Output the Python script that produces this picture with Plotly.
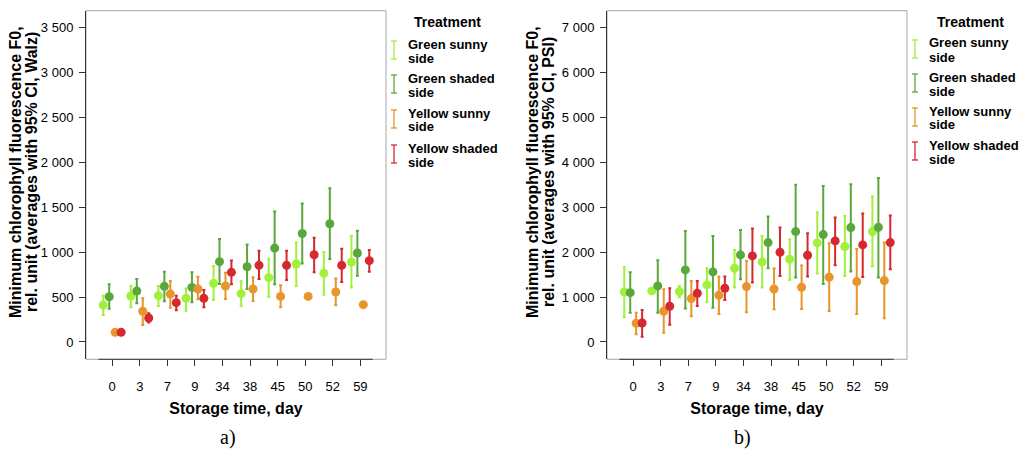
import plotly.graph_objects as go
from plotly.subplots import make_subplots

days = ["0", "3", "7", "9", "34", "38", "45", "50", "52", "59"]
treatments = ["Green sunny", "Green shaded", "Yellow sunny", "Yellow shaded"]
colors = ["#a2f03c", "#5aa83c", "#e8952b", "#d6282f"]

# Panel a) F0, Walz: means and 95% CI bounds
walz_gs_mean = [411, 511, 515, 485, 652, 537, 715, 867, 763, 889]
walz_gs_low = [300, 385, 400, 348, 467, 400, 504, 622, 526, 607]
walz_gs_high = [514, 622, 622, 596, 844, 674, 926, 1107, 1000, 1178]
walz_gsh_mean = [503, 567, 619, 607, 893, 837, 1044, 1207, 1315, 989]
walz_gsh_low = [370, 430, 452, 441, 644, 589, 641, 874, 922, 737]
walz_gsh_high = [641, 700, 781, 774, 1144, 1085, 1452, 1541, 1711, 1237]
walz_ys_mean = [107, 341, 533, 589, 622, 589, 507, 507, 556, 415]
walz_ys_low = [95, 189, 381, 474, 478, 456, 385, 495, 407, 405]
walz_ys_high = [119, 485, 678, 726, 770, 719, 630, 519, 707, 425]
walz_ysh_mean = [107, 267, 437, 485, 774, 852, 852, 970, 852, 904]
walz_ysh_low = [90, 215, 352, 385, 641, 700, 689, 774, 667, 781]
walz_ysh_high = [124, 319, 515, 578, 907, 1015, 1015, 1159, 1037, 1022]

# Panel b) F0, PSI: means and 95% CI bounds
psi_gs_mean = [1115, 1137, 1122, 1271, 1642, 1783, 1843, 2207, 2125, 2459]
psi_gs_low = [557, 1100, 996, 884, 1211, 1211, 1382, 1523, 1471, 1687]
psi_gs_high = [1665, 1175, 1248, 1642, 2051, 2363, 2289, 2891, 2808, 3239]
psi_gsh_mean = [1099, 1248, 1605, 1560, 1939, 2214, 2459, 2392, 2548, 2556]
psi_gsh_low = [653, 653, 743, 765, 1397, 1642, 1434, 1293, 1567, 1434]
psi_gsh_high = [1554, 1821, 2474, 2363, 2496, 2793, 3500, 3477, 3515, 3655]
psi_ys_mean = [416, 684, 966, 1040, 1233, 1181, 1219, 1441, 1345, 1367]
psi_ys_low = [172, 208, 572, 624, 661, 728, 736, 691, 624, 528]
psi_ys_high = [653, 1174, 1360, 1456, 1805, 1634, 1701, 2199, 2073, 2214]
psi_ysh_mean = [423, 795, 1085, 1196, 1917, 1999, 1932, 2251, 2162, 2214]
psi_ysh_low = [119, 386, 802, 936, 1322, 1471, 1456, 1709, 1449, 1620]
psi_ysh_high = [713, 1197, 1360, 1456, 2526, 2548, 2422, 2771, 2860, 2816]

walz = [(walz_gs_mean, walz_gs_low, walz_gs_high),
        (walz_gsh_mean, walz_gsh_low, walz_gsh_high),
        (walz_ys_mean, walz_ys_low, walz_ys_high),
        (walz_ysh_mean, walz_ysh_low, walz_ysh_high)]
psi = [(psi_gs_mean, psi_gs_low, psi_gs_high),
       (psi_gsh_mean, psi_gsh_low, psi_gsh_high),
       (psi_ys_mean, psi_ys_low, psi_ys_high),
       (psi_ysh_mean, psi_ysh_low, psi_ysh_high)]

# page body has an 8px default margin: the figure is sized to fit the window
OFF = 8
W, H = 1033 - OFF, 450 - OFF
FONT = "Arial, Liberation Sans, sans-serif"

fig = make_subplots(rows=1, cols=2)

for col, panel in ((1, walz), (2, psi)):
    for name, color, (m, lo, hi) in zip(treatments, colors, panel):
        fig.add_trace(go.Scatter(
            x=days, y=m, mode="markers", name=name + " side",
            marker=dict(color=color, size=9, line=dict(width=0)),
            error_y=dict(type="data", symmetric=False,
                         array=[h - v for h, v in zip(hi, m)],
                         arrayminus=[v - l for v, l in zip(m, lo)],
                         color=color, thickness=2, width=1.5),
            showlegend=False,
        ), row=1, col=col)

def px_x(p):
    return (p - OFF) / W

def px_y(p):
    return 1 - (p - OFF) / H

dom_y = [px_y(359.3), px_y(10.7)]
frame_gray = "#a8a8a8"
dark = "#333333"

axis_common = dict(showgrid=False, zeroline=False, ticks="outside", ticklen=6,
                   tickcolor=dark, tickwidth=1, automargin=False,
                   tickfont=dict(family=FONT, size=13, color="black"))

ytitle_lines = ["Minimum chlorophyll fluorescence F0,", "rel. unit (averages with 95% CI, {})"]
xtitle = "<b>Storage time, day</b>"

fig.update_xaxes(type="category", range=[-0.95, 9.93], showline=False,
                 ticklabelstandoff=9,
                 title=dict(text=xtitle, font=dict(family=FONT, size=16, color="black"), standoff=9),
                 **axis_common)
fig.update_xaxes(domain=[px_x(86), px_x(386)], row=1, col=1)
fig.update_xaxes(domain=[px_x(607), px_x(907)], row=1, col=2)

fig.update_yaxes(showline=True, linecolor=dark, linewidth=1, tickformat=",d",
                 ticklabelstandoff=3, domain=dom_y, **axis_common)
fig.update_yaxes(range=[-193, 3685], tick0=0, dtick=500, row=1, col=1)
fig.update_yaxes(range=[-386, 7379], tick0=0, dtick=1000, row=1, col=2)

shapes = []
for xa, ya in (("x", "y"), ("x2", "y2")):
    shapes.append(dict(type="rect", xref=xa + " domain", yref=ya + " domain",
                       x0=0, x1=1, y0=0, y1=1, layer="below",
                       line=dict(color=frame_gray, width=1)))
    shapes.append(dict(type="line", xref=xa, yref=ya + " domain",
                       x0=-0.5, x1=9.45, y0=0, y1=0, layer="above",
                       line=dict(color=dark, width=1)))

annotations = []

# y-axis titles (two tightly spaced rotated lines)
for device, (x1, x2) in (("Walz", (15, 31)), ("PSI", (532, 548))):
    for txt, xx in zip(ytitle_lines, (x1, x2)):
        annotations.append(dict(text="<b>" + txt.format(device) + "</b>", textangle=-90,
                                x=px_x(xx), y=px_y(172), xref="paper", yref="paper",
                                xanchor="center", yanchor="middle", showarrow=False,
                                font=dict(family=FONT, size=16, color="black")))

def add_legend(x_icon, x_text, x_title, rows):
    annotations.append(dict(text="<b>Treatment</b>", x=px_x(x_title), y=px_y(22),
                            xref="paper", yref="paper", xanchor="center", yanchor="middle",
                            showarrow=False, font=dict(family=FONT, size=14, color="black")))
    for (name, color, (y1, y2)) in zip(treatments, colors, rows):
        for txt, yy in ((name, y1), ("side", y2)):
            annotations.append(dict(text="<b>" + txt + "</b>", x=px_x(x_text), y=px_y(yy),
                                    xref="paper", yref="paper", xanchor="left", yanchor="middle",
                                    showarrow=False, font=dict(family=FONT, size=13, color="black")))
        top, bot = y1 - 3, y2 + 1
        for seg in ((x_icon, top, x_icon, bot), (x_icon - 3, top, x_icon + 3, top),
                    (x_icon - 3, bot, x_icon + 3, bot)):
            shapes.append(dict(type="line", xref="paper", yref="paper",
                               x0=px_x(seg[0]), y0=px_y(seg[1]), x1=px_x(seg[2]), y1=px_y(seg[3]),
                               line=dict(color=color, width=1.3)))

add_legend(394, 406, 447, [(44, 58), (78, 92), (113, 127), (148, 162)])
add_legend(915, 927, 970, [(43, 57), (77, 91), (111, 125), (145, 159)])

for lab, xx in (("a)", 228), ("b)", 742)):
    annotations.append(dict(text=lab, x=px_x(xx), y=px_y(437), xref="paper", yref="paper",
                            xanchor="center", yanchor="middle", showarrow=False,
                            font=dict(family="Liberation Serif, Times New Roman, serif", size=20, color="black")))

fig.update_layout(
    width=W, height=H, margin=dict(l=0, r=0, t=0, b=0),
    template="none", paper_bgcolor="white", plot_bgcolor="white",
    separators=". ", scattermode="group", scattergap=0.136,
    showlegend=False, shapes=shapes, annotations=annotations,
    font=dict(family=FONT, color="black"),
)

fig.write_html("out.html")
